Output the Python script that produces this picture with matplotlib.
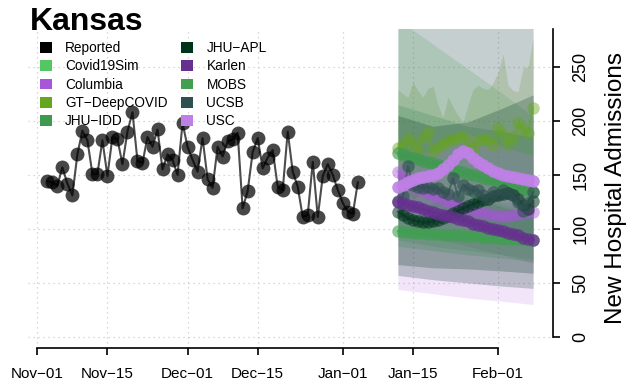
import matplotlib
matplotlib.use("Agg")
import matplotlib.pyplot as plt
import matplotlib.dates as mdates
from matplotlib.patches import Patch
import pandas as pd

plt.rcParams['font.family'] = ['Liberation Sans', 'DejaVu Sans']

# reported daily admissions, Nov-03 .. Jan-04
reported_start = "2020-11-03"
reported = [144, 143, 140, 157, 142, 131, 169, 191, 182, 151,
            151, 182, 149, 185, 183, 160, 190, 208, 163, 161,
            185, 176, 192, 155, 169, 164, 150, 198, 176, 164,
            153, 184, 146, 138, 176, 167, 181, 183, 189, 119,
            135, 171, 184, 156, 166, 173, 139, 136, 190, 153,
            139, 111, 113, 162, 111, 149, 160, 150, 136, 124,
            116, 114, 143]

# forecasts, daily Jan-12 .. Feb-08
fc_start = "2021-01-12"
usc_med = [139, 141, 143, 145, 147, 148, 149, 150, 152, 155, 159, 164, 169, 172,
           170, 166, 162, 159, 156, 154, 152, 150, 149, 148, 147, 146, 145, 144]
gt_med = [175, 178, 184, 179, 172, 184, 190, 172, 176, 179, 181, 183, 184, 186,
          180, 174, 182, 182, 183, 178, 193, 187, 179, 185, 198, 192, 189, 212]
jhuidd_med = [170, 169, 167, 166, 165, 163, 162, 161, 159, 158, 157, 155, 154, 153,
              151, 150, 149, 147, 146, 145, 143, 142, 141, 139, 138, 137, 135, 134]
jhuapl_med = [116, 113, 110, 108, 107, 106, 106, 107, 108, 110, 112, 115, 117, 119,
              121, 123, 125, 127, 128, 130, 131, 132, 133, 131, 128, 122, 118, 126]
karlen_med = [125, 124, 122, 121, 120, 118, 117, 116, 114, 113, 112, 111, 109, 108,
              107, 105, 104, 103, 101, 100, 99, 98, 96, 95, 94, 92, 91, 90]
mobs_med = [98, 97, 97, 96, 96, 96, 95, 95, 95, 94, 94, 94, 94, 93,
            93, 93, 93, 92, 92, 92, 92, 91, 91, 91, 91, 90, 90, 90]
ucsb_med = [126, 130, 158, 141, 139, 138, 139, 137, 138, 134, 132, 147, 130, 141,
            137, 135, 136, 131, 128, 134, 131, 136, 133, 131, 125, 117, 124, 134]
columbia_med = [153, 149, 145, 141, 138, 135, 133, 131, 129, 127, 125, 123, 121, 120,
                118, 117, 116, 115, 114, 113, 112, 112, 112, 113, 114, 115, 116, 116]

# 95% intervals; GT-DeepCOVID daily, the rest weekly
gt_hi = [229, 225, 222, 236, 228, 222, 230, 232, 215, 203, 222, 213, 205, 199,
         215, 229, 233, 230, 229, 235, 245, 262, 233, 228, 227, 249, 250, 277]
gt_lo = [128, 131, 134, 127, 130, 133, 129, 131, 135, 130, 128, 134, 137, 132,
         130, 136, 139, 135, 138, 141, 137, 140, 144, 139, 142, 146, 143, 148]
week_days = ["2021-01-12", "2021-01-19", "2021-01-26", "2021-02-02", "2021-02-08"]
covid19sim_hi = [294, 271, 248, 225, 204]
covid19sim_lo = [90, 84, 80, 76, 72]
usc_hi = [162, 172, 188, 176, 168]
usc_lo = [118, 124, 134, 122, 116]
jhuidd_hi = [215, 205, 195, 190, 185]
jhuidd_lo = [125, 115, 108, 100, 95]
jhuapl_hi = [205, 195, 199, 212, 224]
jhuapl_lo = [67, 64, 63, 61, 59]
karlen_hi = [150, 140, 130, 120, 112]
karlen_lo = [100, 92, 84, 76, 68]
mobs_hi = [112, 114, 116, 118, 120]
mobs_lo = [84, 80, 76, 73, 70]
ucsb_hi = [400, 400, 400, 400, 400]
ucsb_lo = [57, 53, 50, 47, 45]
columbia_hi = [150, 138, 128, 124, 124]
columbia_lo = [44, 40, 36, 33, 30]

labels = ["Reported", "Covid19Sim", "Columbia", "GT\u2212DeepCOVID", "JHU\u2212IDD",
          "JHU\u2212APL", "Karlen", "MOBS", "UCSB", "USC"]
colors = ["#000000", "#52C763", "#A855D8", "#66A61E", "#3F9A50",
          "#00331C", "#66308F", "#40A050", "#2F5050", "#BF80E6"]

rep_dates = pd.date_range(reported_start, periods=len(reported))
fc_dates = pd.date_range(fc_start, periods=len(usc_med))
wk_dates = pd.to_datetime(week_days)

fig = plt.figure(figsize=(6.31, 3.85), dpi=100)
ax = fig.add_axes([28/631, 1-348/385, (553-28)/631, (348-29)/385])

# GT band and line first, the other bands sit on top of it
ax.fill_between(wk_dates, covid19sim_lo, covid19sim_hi, color=colors[1], alpha=0.2, lw=0)
ax.fill_between(fc_dates, gt_lo, gt_hi, color=colors[3], alpha=0.2, lw=0)
ax.plot(fc_dates, gt_med, color=colors[3], alpha=0.45, lw=1.5, marker='o', ms=9, mec='none')

bands = [(columbia_lo, columbia_hi, colors[2], 0.15),
         (jhuidd_lo, jhuidd_hi, colors[4], 0.24),
         (jhuapl_lo, jhuapl_hi, colors[5], 0.25),
         (karlen_lo, karlen_hi, colors[6], 0.12),
         (mobs_lo, mobs_hi, colors[7], 0.24),
         (ucsb_lo, ucsb_hi, colors[8], 0.27),
         (usc_lo, usc_hi, colors[9], 0.2)]
for lo, hi, c, a in bands:
    ax.fill_between(wk_dates, lo, hi, color=c, alpha=a, lw=0)

meds = [(columbia_med, colors[2], 0.45), (mobs_med, colors[7], 0.6),
        (jhuidd_med, colors[4], 0.65), (jhuapl_med, colors[5], 0.55),
        (ucsb_med, colors[8], 0.6), (karlen_med, colors[6], 0.75),
        (usc_med, colors[9], 0.9)]
for m, c, a in meds:
    ax.plot(fc_dates, m, color=c, alpha=a, lw=1.5, marker='o', ms=9, mec='none')

ax.plot(rep_dates, reported, color='black', alpha=0.7, lw=1.5)
ax.plot(rep_dates, reported, ls='none', marker='o', ms=10, color='black', alpha=0.72, mec='none')

x0 = pd.Timestamp("2020-11-01")
ax.set_xlim(mdates.date2num(x0) - 1.86, mdates.date2num(x0) + 102.97)
ax.set_ylim(-10.2, 285)

xt = pd.to_datetime(["2020-11-01", "2020-11-15", "2020-12-01", "2020-12-15",
                     "2021-01-01", "2021-01-15", "2021-02-01"])
ax.set_xticks(xt)
ax.set_xticklabels([d.strftime("%b-%d").replace("-", "\u2212") for d in xt], fontsize=11)
ax.set_yticks([0, 50, 100, 150, 200, 250])
ax.yaxis.tick_right()
ax.yaxis.set_label_position('right')
for t in ax.get_yticklabels():
    t.set_rotation(90)
    t.set_va('center')
    t.set_fontsize(13)
ax.tick_params(axis='x', length=5, width=1.2, pad=8.5)
ax.tick_params(axis='y', length=5, width=1.2, pad=9)
ax.set_ylabel("New Hospital Admissions", fontsize=17.5, labelpad=11)

ax.grid(True, color='#cccccc', linestyle=(0, (1, 3)), lw=0.9)
ax.set_axisbelow(True)
for s in ['left', 'top']:
    ax.spines[s].set_visible(False)
ax.spines['bottom'].set_bounds(mdates.date2num(xt[0]), mdates.date2num(xt[-1]))
ax.spines['right'].set_bounds(0, 285)
ax.spines['bottom'].set_linewidth(1.2)
ax.spines['right'].set_linewidth(1.2)

handles = [Patch(facecolor=c, edgecolor='none') for c in colors]
ax.legend(handles, labels, ncol=2, loc='upper left', bbox_to_anchor=(40/631, 1-41/385),
          bbox_transform=fig.transFigure, frameon=False, fontsize=9.8,
          handlelength=0.85, handleheight=0.85, handletextpad=1.0,
          columnspacing=1.0, labelspacing=0.32, borderpad=0, borderaxespad=0)

fig.text(30/631, 1-30/385, "Kansas", fontsize=23, fontweight='bold', va='baseline')

fig.savefig("out.png", dpi=100)
